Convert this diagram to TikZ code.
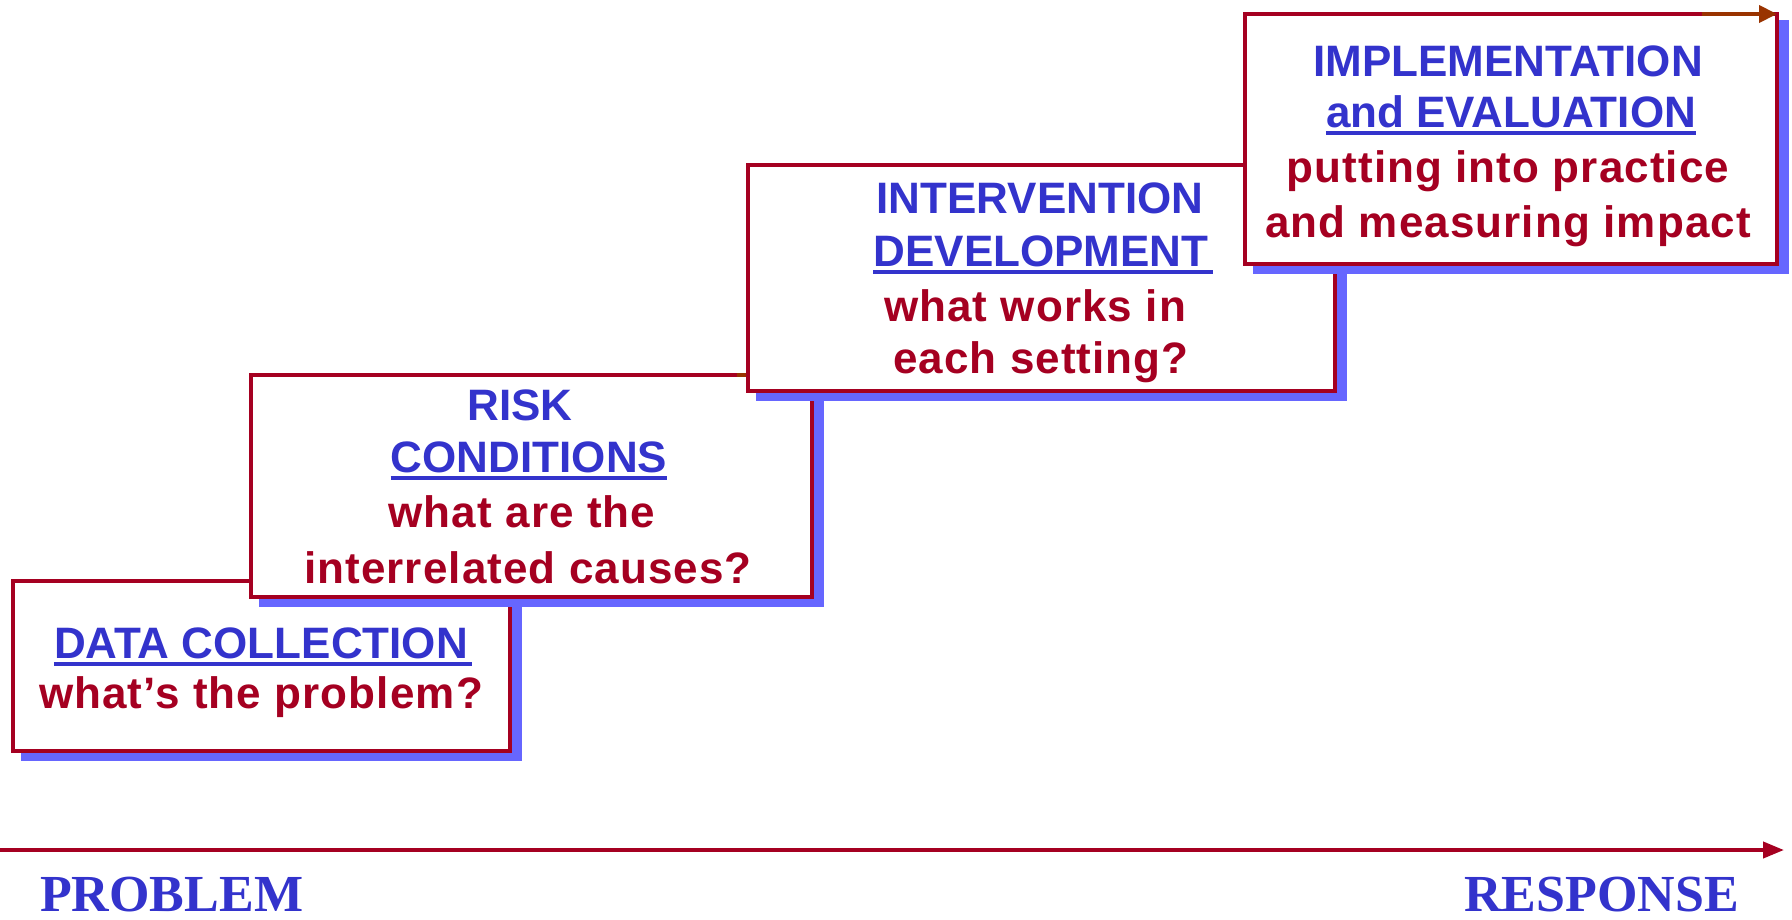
\documentclass[tikz,border=0pt]{standalone}
\usepackage{fontspec}
\setmainfont{Liberation Sans}
\newfontfamily\lblfont{Liberation Serif}
\usetikzlibrary{arrows.meta}
\definecolor{bred}{HTML}{A50021}
\definecolor{tblue}{HTML}{3333CC}
\definecolor{shad}{HTML}{6666FF}
\definecolor{brn}{HTML}{993300}
\begin{document}
\begin{tikzpicture}[x=1pt,y=-1pt,
  box/.style={draw=bred, line width=4pt, fill=white, rectangle, inner sep=0pt, outer sep=0pt, anchor=north west,
    preaction={draw=shad, fill=shad, line width=4pt, transform canvas={shift={(10pt,-8pt)}}}},
  ttl/.style={text=tblue, font=\fontsize{44}{50}\selectfont\bfseries, inner sep=0pt, anchor=base},
  txt/.style={text=bred, font=\fontsize{44}{50}\selectfont\bfseries\addfontfeatures{LetterSpace=2.5}, inner sep=0pt, anchor=base},
  ul/.style={draw=tblue, line width=4pt},
  axlbl/.style={text=tblue, font=\fontsize{52}{60}\selectfont\lblfont\bfseries, inner sep=0pt, anchor=base west},
  axisline/.style={draw=bred, line width=4pt, -{Triangle[length=21pt,width=16pt]}},
  toparrow/.style={draw=brn, line width=4pt, -{Triangle[length=18pt,width=17pt]}}]
\useasboundingbox (0,0) rectangle (1792,919);

% box 1
\node[box, minimum width=497pt, minimum height=170pt] (b1) at (13,581) {};
\node[ttl] (t1a) at (261,658) {DATA COLLECTION};
\node[txt] (t1b) at (261,708) {what’s the problem?};
\draw[ul] ([yshift=-6pt]t1a.base west) -- ([yshift=-6pt,xshift=4pt]t1a.base east);

% box 2
\node[box, minimum width=561pt, minimum height=222pt] (b2) at (251,375) {};
\draw[brn, line width=4pt] (737,375) -- (748,375);
\node[ttl] (t2a) at (520,420) {RISK};
\node[ttl] (t2b) at (529,472) {CONDITIONS};
\draw[ul] ([yshift=-6pt]t2b.base west) -- ([yshift=-6pt]t2b.base east);
\node[txt] (t2c) at (522,527) {what are the};
\node[txt] (t2d) at (528,583) {interrelated causes?};

% box 3
\node[box, minimum width=587pt, minimum height=226pt] (b3) at (748,165) {};
\node[ttl] (t3a) at (1040,213) {INTERVENTION};
\node[ttl] (t3b) at (1041,266) {DEVELOPMENT};
\draw[ul] ([yshift=-6pt]t3b.base west) -- ([yshift=-6pt,xshift=4pt]t3b.base east);
\node[txt] (t3c) at (1035,321) {what works in};
\node[txt] (t3d) at (1041,373) {each setting?};

% box 4
\node[box, minimum width=532pt, minimum height=250pt] (b4) at (1245,14) {};
\node[ttl] (t4a) at (1508,76) {IMPLEMENTATION};
\node[ttl] (t4b) at (1511,127) {and EVALUATION};
\draw[ul] ([yshift=-6pt]t4b.base west) -- ([yshift=-6pt]t4b.base east);
\node[txt] (t4c) at (1508,182) {putting into practice};
\node[txt] (t4d) at (1508,237) {and measuring impact};

% top arrow
\coordinate (ta0) at (1702,14);
\coordinate (ta1) at (1777,14);
\draw[toparrow] (ta0) -- (ta1);

% axis
\coordinate (ax0) at (0,850);
\coordinate (ax1) at (1784,850);
\draw[axisline] (ax0) -- (ax1);
\node[axlbl] (prob) at (40,911) {PROBLEM};
\node[axlbl] (resp) at (1464,911) {RESPONSE};
\end{tikzpicture}
\end{document}
